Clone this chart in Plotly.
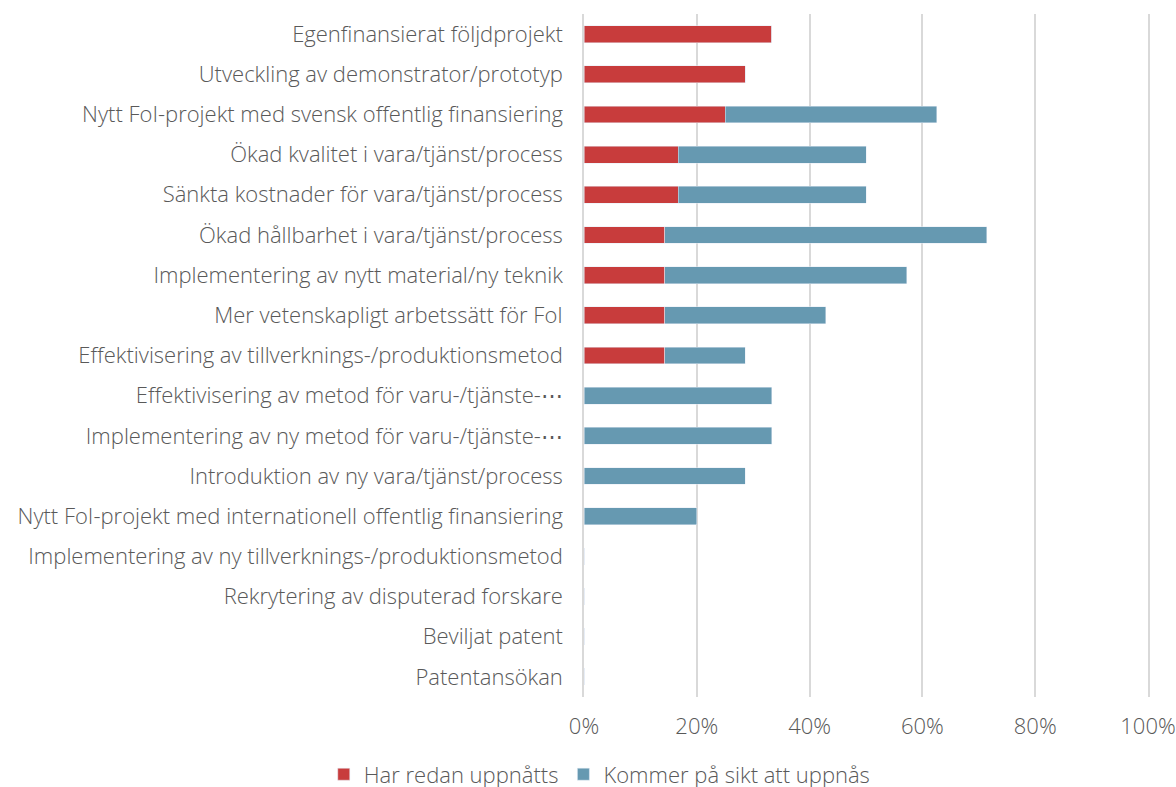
import plotly.graph_objects as go

categories = [
    "Egenfinansierat följdprojekt",
    "Utveckling av demonstrator/prototyp",
    "Nytt FoI-projekt med svensk offentlig finansiering",
    "Ökad kvalitet i vara/tjänst/process",
    "Sänkta kostnader för vara/tjänst/process",
    "Ökad hållbarhet i vara/tjänst/process",
    "Implementering av nytt material/ny teknik",
    "Mer vetenskapligt arbetssätt för FoI",
    "Effektivisering av tillverknings-/produktionsmetod",
    "Effektivisering av metod för varu-/tjänste-⋯",
    "Implementering av ny metod för varu-/tjänste-⋯",
    "Introduktion av ny vara/tjänst/process",
    "Nytt FoI-projekt med internationell offentlig finansiering",
    "Implementering av ny tillverknings-/produktionsmetod",
    "Rekrytering av disputerad forskare",
    "Beviljat patent",
    "Patentansökan",
]
har_redan = [0.333, 0.286, 0.25, 0.167, 0.167, 0.143, 0.143, 0.143, 0.143,
             0, 0, 0, 0, 0, 0, 0, 0]
kommer = [0, 0, 0.375, 0.333, 0.333, 0.571, 0.429, 0.286, 0.143,
          0.333, 0.333, 0.286, 0.2, 0, 0, 0, 0]
x_ticks = [0, 0.2, 0.4, 0.6, 0.8, 1.0]
x_tick_labels = ["0%", "20%", "40%", "60%", "80%", "100%"]

RED = "#C83C3C"
BLUE = "#6699B1"
FONT = "Open Sans"
GRAY = "#595959"
GRID = "#D9D9D9"
FS = 22
FW = 300
fnt = dict(family=FONT, size=FS, color=GRAY, weight=FW)

fig = go.Figure()
fig.add_trace(go.Bar(y=categories, x=har_redan, orientation="h",
                     name="Har redan uppnåtts", marker_color=RED, width=0.42))
fig.add_trace(go.Bar(y=categories, x=kommer, orientation="h",
                     name="Kommer på sikt att uppnås", marker_color=BLUE, width=0.42))

fig.update_layout(
    barmode="stack",
    width=1176, height=787,
    margin=dict(l=584, r=28, t=14, b=90, autoexpand=False),
    paper_bgcolor="white", plot_bgcolor="white",
    font=fnt,
    legend=dict(orientation="h", xref="container", yref="container",
                x=0.51, xanchor="center", y=0.016, yanchor="middle",
                font=fnt, traceorder="normal", itemwidth=30),
    showlegend=True,
)
fig.update_xaxes(range=[0, 1.0], tickvals=x_ticks, ticktext=x_tick_labels,
                 showgrid=True, gridcolor=GRID, gridwidth=1.5,
                 zeroline=False, showline=False, ticks="", automargin=False,
                 tickfont=fnt, ticklabelstandoff=14)
fig.update_yaxes(autorange="reversed", showgrid=False, zeroline=False,
                 showline=True, mirror=True, linecolor=GRID, linewidth=1.5,
                 ticks="", automargin=False, tickfont=fnt, ticklabelstandoff=15)

fig.write_html("out.html", config={"displayModeBar": False},
               post_script="document.body.style.margin='0';document.body.style.overflow='hidden';")
